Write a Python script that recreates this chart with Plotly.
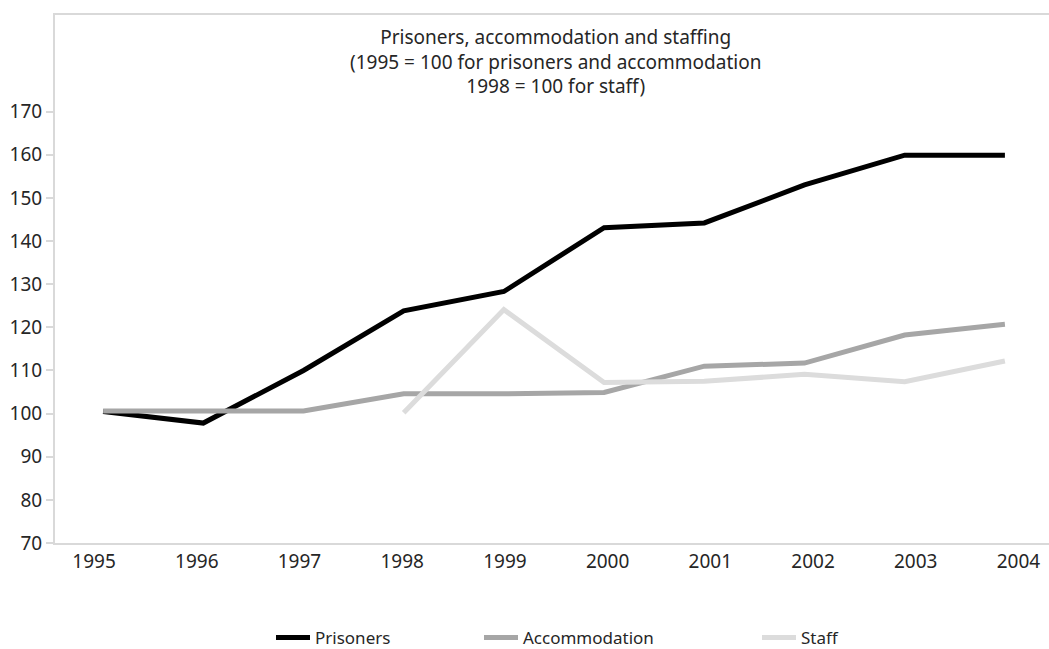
import plotly.graph_objects as go

years = [1995, 1996, 1997, 1998, 1999, 2000, 2001, 2002, 2003, 2004]
prisoners = [100.5, 97.8, 110.0, 123.8, 128.3, 143.1, 144.2, 153.0, 159.9, 159.9]
accommodation = [100.6, 100.6, 100.6, 104.6, 104.6, 104.9, 111.0, 111.7, 118.2, 120.7]
staff_years = [1998, 1999, 2000, 2001, 2002, 2003, 2004]
staff = [100.2, 124.1, 107.2, 107.5, 109.1, 107.4, 112.2]

y_ticks = [70, 80, 90, 100, 110, 120, 130, 140, 150, 160, 170]
x_tick_labels = [str(y) for y in years]

title_lines = ["Prisoners, accommodation and staffing",
               "(1995 = 100 for prisoners and accommodation",
               "1998 = 100 for staff)"]

FONT = "Noto Sans"
TXT = "#262626"
AX = "#d9d9d9"

W, H = 1049, 649
ML, MR, MT, MB = 55, 0, 15, 106
PW = W - ML - MR
PH = H - MT - MB

fig = go.Figure()
fig.add_trace(go.Scatter(x=years, y=prisoners, mode="lines", name="Prisoners",
                         line=dict(color="#000000", width=5), legend="legend"))
fig.add_trace(go.Scatter(x=years, y=accommodation, mode="lines", name="Accommodation",
                         line=dict(color="#a6a6a6", width=5), legend="legend2"))
fig.add_trace(go.Scatter(x=staff_years, y=staff, mode="lines", name="Staff",
                         line=dict(color="#dcdcdc", width=5), legend="legend3"))

# category labels are spread slightly wider than the data points in the original
spread = 1.025
label_pos = [years[0] - 0.09 + i * spread for i in range(len(years))]

annotations = [dict(text="<br>".join(title_lines), xref="paper", yref="paper", x=0.504,
                    y=1 - (62 - MT) / PH, xanchor="center", yanchor="middle",
                    showarrow=False, font=dict(size=19, color=TXT))]

fig.update_layout(
    width=W, height=H,
    margin=dict(l=ML, r=MR, t=MT, b=MB, autoexpand=False),
    paper_bgcolor="white", plot_bgcolor="white",
    font=dict(family=FONT, color=TXT, size=19),
    showlegend=True,
    xaxis=dict(range=[1994.52, 2004.44], tickvals=label_pos, ticktext=x_tick_labels,
               showgrid=False, zeroline=False, showline=True, linecolor=AX, linewidth=2,
               mirror=True, ticks="", tickfont=dict(size=19, color=TXT)),
    yaxis=dict(range=[70, 192.4], tickvals=y_ticks, showgrid=False, zeroline=False,
               showline=True, linecolor=AX, linewidth=2, ticks="outside", ticklen=7,
               tickcolor=AX, tickwidth=1.5, tickfont=dict(size=19, color=TXT)),
    annotations=annotations,
)

leg_y = 1 - (638 - MT) / PH
leg_common = dict(orientation="h", yanchor="middle", xanchor="left", itemwidth=34,
                  bgcolor="rgba(0,0,0,0)", font=dict(size=17, color=TXT, family=FONT))
fig.update_layout(
    legend=dict(x=(271 - ML) / PW, y=leg_y, **leg_common),
    legend2=dict(x=(479 - ML) / PW, y=leg_y, **leg_common),
    legend3=dict(x=(757 - ML) / PW, y=leg_y, **leg_common),
)

fig.write_html("out.html", config={"displayModeBar": False},
               post_script="document.body.style.margin='0';")
